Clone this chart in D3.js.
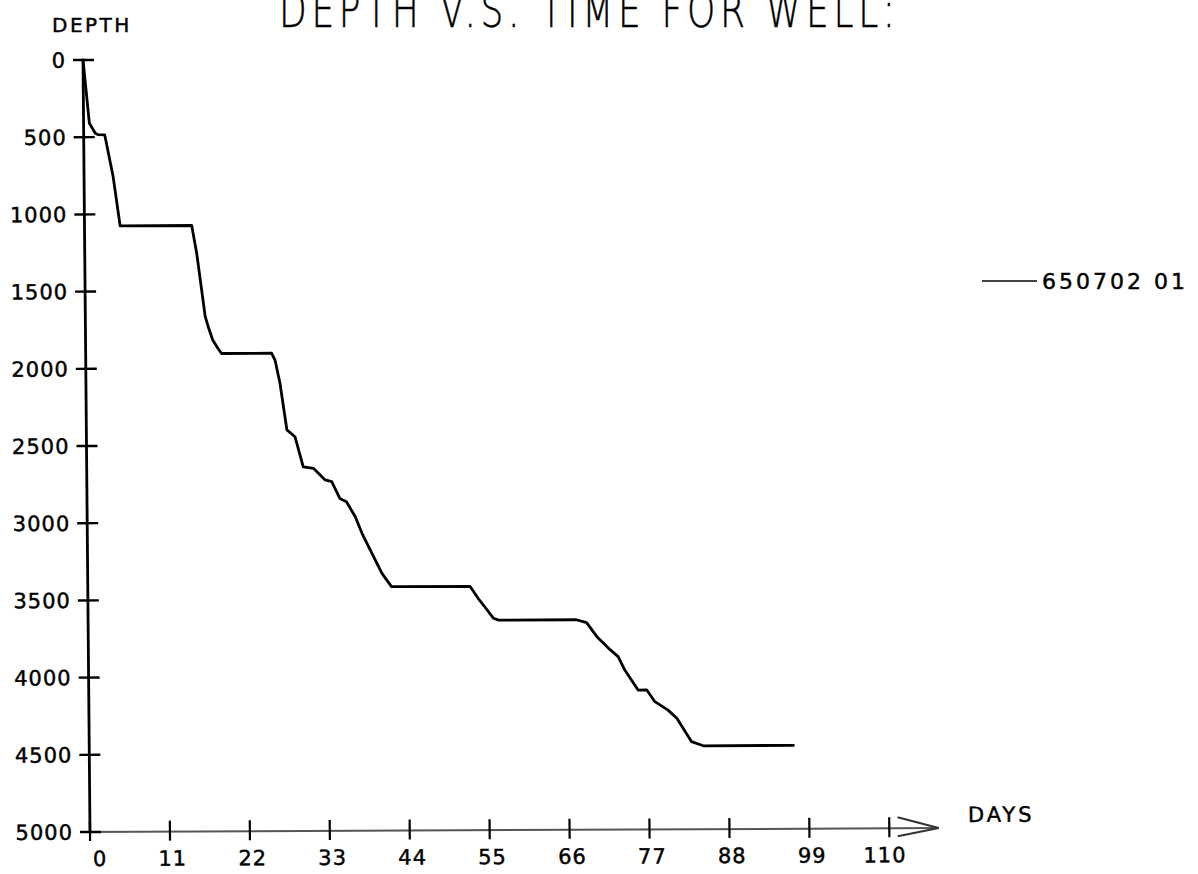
<!DOCTYPE html>
<html>
<head>
<meta charset="utf-8">
<script src="https://cdn.jsdelivr.net/npm/d3@7"></script>
<style>
  html, body { margin: 0; padding: 0; background: #fff; }
  svg { display: block; }
  text { font-family: "DejaVu Sans", Verdana, sans-serif; fill: #000; }
  .lbl { stroke: #000; stroke-width: 0.45px; }
</style>
</head>
<body>
<svg id="chart" width="1198" height="874"></svg>
<script>
// ---- data ----
const titleText = "DEPTH V.S. TIME FOR WELL:";
const yAxisTitle = "DEPTH";
const xAxisTitle = "DAYS";
const seriesName = "650702 01";

const xTicks = [0, 11, 22, 33, 44, 55, 66, 77, 88, 99, 110];
const yTicks = [0, 500, 1000, 1500, 2000, 2500, 3000, 3500, 4000, 4500, 5000];

const days = [0, 0.8, 1.6, 2.0, 2.9, 4.0, 4.9, 14.75, 15.4, 16.5, 16.9, 17.5, 18.2, 18.7,
  25.6, 26.05, 26.7, 27.6, 28.7, 29.8, 31.2, 32.8, 33.7, 34.8, 35.7, 36.9, 37.8, 40.5, 41.8,
  52.6, 53.7, 54.6, 55.8, 56.5, 67.2, 68.6, 70.0, 71.6, 72.9, 73.8, 75.6, 76.8, 77.9, 79.7,
  80.9, 82.9, 84.5, 96.9];
const depths = [0, 410, 475, 484, 486, 756, 1075, 1075, 1253, 1666, 1731, 1817, 1871, 1905,
  1905, 1949, 2098, 2402, 2446, 2641, 2651, 2727, 2738, 2847, 2869, 2966, 3074, 3334, 3420,
  3420, 3498, 3553, 3628, 3640, 3640, 3659, 3750, 3826, 3880, 3967, 4097, 4097, 4173, 4228,
  4281, 4433, 4460, 4460];

// ---- layout ----
const xDomain = [0, 110], yDomain = [0, 5000];
const arrowDay = 116.8;
const x = d3.scaleLinear().domain(xDomain).range([90, 889.3]);
const y = d3.scaleLinear().domain(yDomain).range([60, 832]);

const svg = d3.select("#chart");
svg.append("rect").attr("width", 1198).attr("height", 874).attr("fill", "#fff");

// title (top clipped as in the scan), thin and condensed
const titleSqueeze = 0.72;
svg.append("text")
  .attr("transform", `translate(279,27) scale(${titleSqueeze},1)`)
  .attr("x", 0).attr("y", 0)
  .attr("textLength", 616 / titleSqueeze).attr("lengthAdjust", "spacing")
  .style("font-family", "'DejaVu Sans', sans-serif")
  .style("font-weight", "200")
  .style("font-size", "50px")
  .style("stroke", "#000").style("stroke-width", "0.5px")
  .text(titleText);

svg.append("text")
  .attr("class", "lbl")
  .attr("x", 52).attr("y", 32)
  .style("font-size", "20px").style("letter-spacing", "2.5px")
  .text(yAxisTitle);

// skewed plot frame (scan is slightly tilted)
const ox = x(0), oy = y(5000);
const g = svg.append("g")
  .attr("transform", `translate(${ox},${oy}) matrix(1,-0.00463,0.00907,1,0,0) translate(${-ox},${-oy})`);

// x axis (grey, thinner)
g.append("line")
  .attr("x1", x(0) - 10).attr("x2", x(arrowDay))
  .attr("y1", y(5000)).attr("y2", y(5000))
  .attr("stroke", "#555").attr("stroke-width", 2);
g.append("path")
  .attr("d", `M${x(arrowDay) - 41},${y(5000) - 11} L${x(arrowDay)},${y(5000)} L${x(arrowDay) - 41},${y(5000) + 8}`)
  .attr("fill", "none").attr("stroke", "#333").attr("stroke-width", 2);

g.selectAll(".xt").data(xTicks).enter().append("line")
  .attr("x1", d => x(d)).attr("x2", d => x(d))
  .attr("y1", y(5000) - 11).attr("y2", y(5000) + 9)
  .attr("stroke", "#000").attr("stroke-width", 2.2);
g.selectAll(".xl").data(xTicks).enter().append("text")
  .attr("class", "lbl")
  .attr("x", d => x(d) + 17).attr("y", y(5000) + 34)
  .attr("text-anchor", "end")
  .style("font-size", "21px").style("letter-spacing", "1px")
  .text(d => d);

// y axis (black)
g.append("line")
  .attr("x1", x(0)).attr("x2", x(0))
  .attr("y1", y(0)).attr("y2", y(5000))
  .attr("stroke", "#000").attr("stroke-width", 2.8);
g.selectAll(".yt").data(yTicks).enter().append("line")
  .attr("x1", x(0) - 10).attr("x2", x(0) + 11)
  .attr("y1", d => y(d)).attr("y2", d => y(d))
  .attr("stroke", "#000").attr("stroke-width", 2.4);
g.selectAll(".yl").data(yTicks).enter().append("text")
  .attr("class", "lbl")
  .attr("x", x(0) - 17).attr("y", d => y(d))
  .attr("dy", "0.36em")
  .attr("text-anchor", "end")
  .style("font-size", "21px").style("letter-spacing", "1px")
  .text(d => d);

g.append("text")
  .attr("class", "lbl")
  .attr("x", 968).attr("y", y(5000) - 6)
  .style("font-size", "21px").style("letter-spacing", "3px")
  .text(xAxisTitle);

// series
const pts = days.map((d, i) => [d, depths[i]]);
g.append("path")
  .datum(pts)
  .attr("d", d3.line().x(d => x(d[0])).y(d => y(d[1])))
  .attr("fill", "none").attr("stroke", "#000")
  .attr("stroke-width", 2.8).attr("stroke-linejoin", "round").attr("stroke-linecap", "round");

// legend
svg.append("line")
  .attr("x1", 982).attr("x2", 1037).attr("y1", 281).attr("y2", 281)
  .attr("stroke", "#444").attr("stroke-width", 2);
svg.append("text")
  .attr("class", "lbl")
  .attr("x", 1042).attr("y", 289)
  .style("font-size", "22px").style("letter-spacing", "3px")
  .text(seriesName);
</script>
</body>
</html>
